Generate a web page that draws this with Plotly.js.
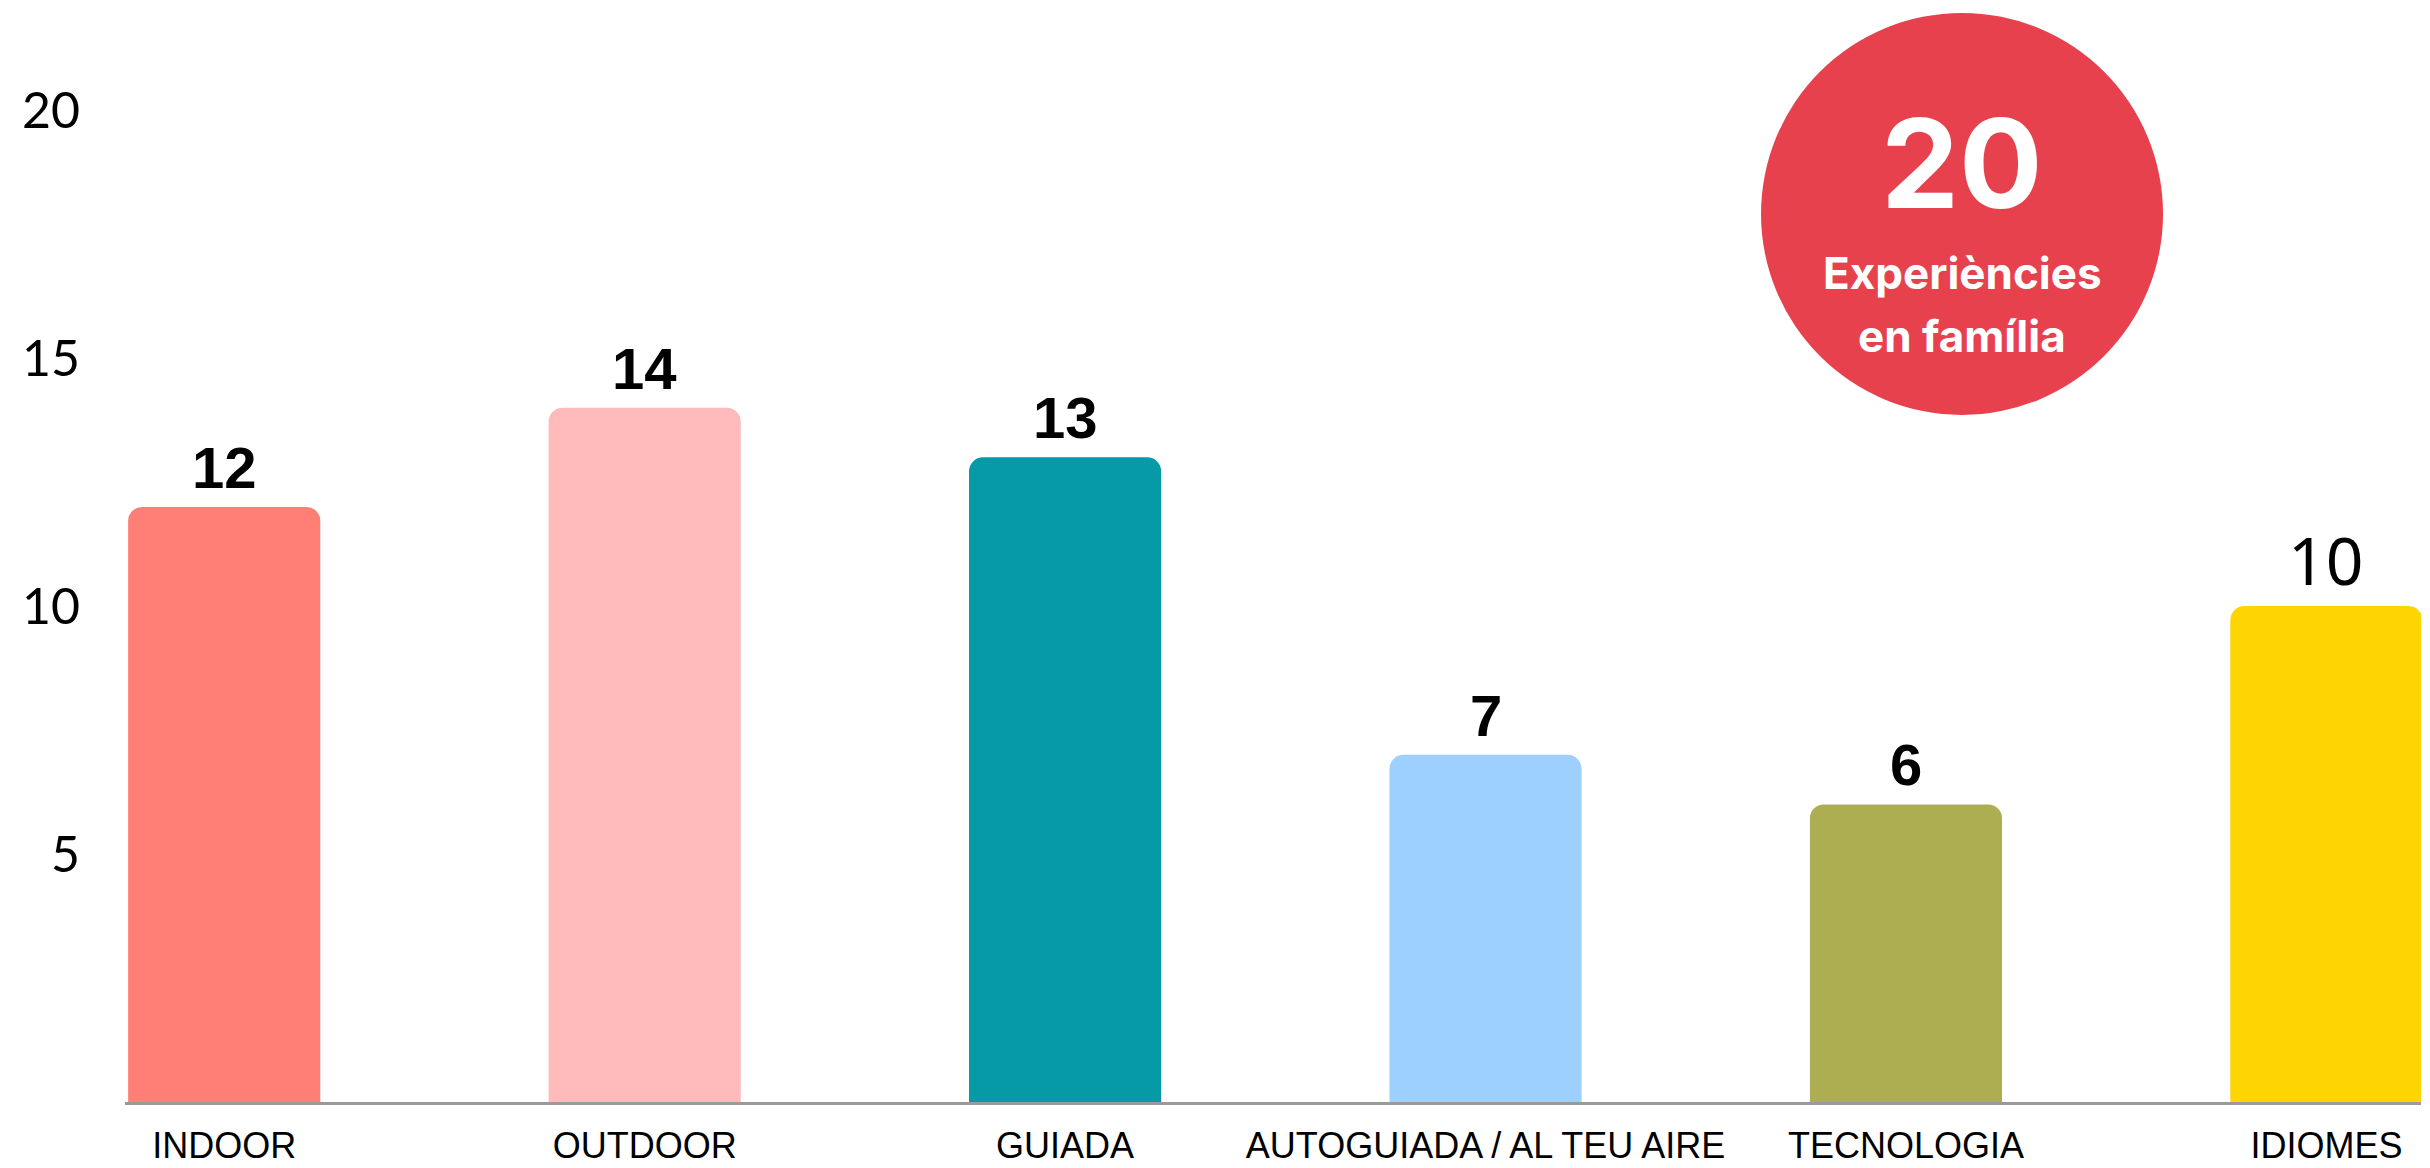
<!DOCTYPE html>
<html>
<head>
<meta charset="utf-8">
<script src="https://cdn.plot.ly/plotly-3.0.1.min.js"></script>
<style>
  html, body { margin: 0; padding: 0; background: #ffffff; }
  #chart { width: 2430px; height: 1168px; }
</style>
</head>
<body>
<div id="chart"></div>
<script>
// ---- data ----
const categories = ['INDOOR', 'OUTDOOR', 'GUIADA', 'AUTOGUIADA / AL TEU AIRE', 'TECNOLOGIA', 'IDIOMES'];
const values = [12, 14, 13, 7, 6, 10];
const yTickValues = [5, 10, 15, 20];
const yTickLabels = ['5', '10', '15', '20'];
const badgeNumber = '20';
const badgeLines = ['Experiències', 'en família'];

// ---- styles ----
const barColors = ['#FF7E76', '#FFBABC', '#059AA6', '#9DCFFF', '#ADAD52', '#FFD500'];
const labelHeavy = [true, true, true, true, true, false];

const annotations = [];
categories.forEach(function (c, i) {
  const heavy = labelHeavy[i];
  annotations.push({
    x: c, y: values[i], xref: 'x', yref: 'y',
    text: String(values[i]),
    showarrow: false,
    yanchor: 'bottom',
    yshift: heavy ? 5 : 0,
    font: heavy
      ? { family: 'Liberation Sans, Arial, sans-serif', size: 58, color: '#000000', weight: 900 }
      : { family: 'Noto Sans, Open Sans, sans-serif', size: 66, color: '#000000', weight: 400 }
  });
});

// badge text (paper coords)
annotations.push({
  xref: 'paper', yref: 'paper', x: 0.8001, y: 0.861, xanchor: 'center', yanchor: 'middle',
  text: badgeNumber, showarrow: false,
  font: { family: 'Inter, sans-serif', size: 124, color: '#ffffff', weight: 700 }
});
annotations.push({
  xref: 'paper', yref: 'paper', x: 0.8001, y: 0.760, xanchor: 'center', yanchor: 'middle',
  text: badgeLines[0], showarrow: false,
  font: { family: 'Inter, sans-serif', size: 44, color: '#ffffff', weight: 700 }
});
annotations.push({
  xref: 'paper', yref: 'paper', x: 0.8001, y: 0.702, xanchor: 'center', yanchor: 'middle',
  text: badgeLines[1], showarrow: false,
  font: { family: 'Inter, sans-serif', size: 44, color: '#ffffff', weight: 700 }
});

const trace = {
  type: 'bar',
  x: categories,
  y: values,
  width: 0.457,
  marker: { color: barColors, cornerradius: 14, line: { width: 0 } },
  hoverinfo: 'x+y'
};

const layout = {
  width: 2430,
  height: 1168,
  margin: { l: 125, r: 9, t: 11, b: 66, pad: 0 },
  paper_bgcolor: '#ffffff',
  plot_bgcolor: '#ffffff',
  showlegend: false,
  xaxis: {
    type: 'category',
    range: [-0.236, 5.225],
    showgrid: false,
    zeroline: false,
    showline: true,
    linecolor: '#9a9a9a',
    linewidth: 3,
    ticks: '',
    ticklabelstandoff: 10,
    tickfont: { family: 'Liberation Sans, Arial, sans-serif', size: 36, color: '#000000' }
  },
  yaxis: {
    range: [0, 22],
    tickmode: 'array',
    tickvals: yTickValues,
    ticktext: yTickLabels,
    showgrid: false,
    zeroline: false,
    showline: false,
    ticks: '',
    ticklabelstandoff: 44,
    tickfont: { family: 'Lato, sans-serif', size: 50, color: '#000000', weight: 400 }
  },
  shapes: [{
    type: 'circle',
    xref: 'paper', yref: 'paper',
    xsizemode: 'pixel', ysizemode: 'pixel',
    xanchor: 0.8001, yanchor: 0.814,
    x0: -201, x1: 201, y0: -201, y1: 201,
    fillcolor: '#E8414E',
    line: { width: 0 },
    layer: 'above'
  }],
  annotations: annotations
};

Plotly.newPlot('chart', [trace], layout, { displayModeBar: false, staticPlot: true });
</script>
</body>
</html>
